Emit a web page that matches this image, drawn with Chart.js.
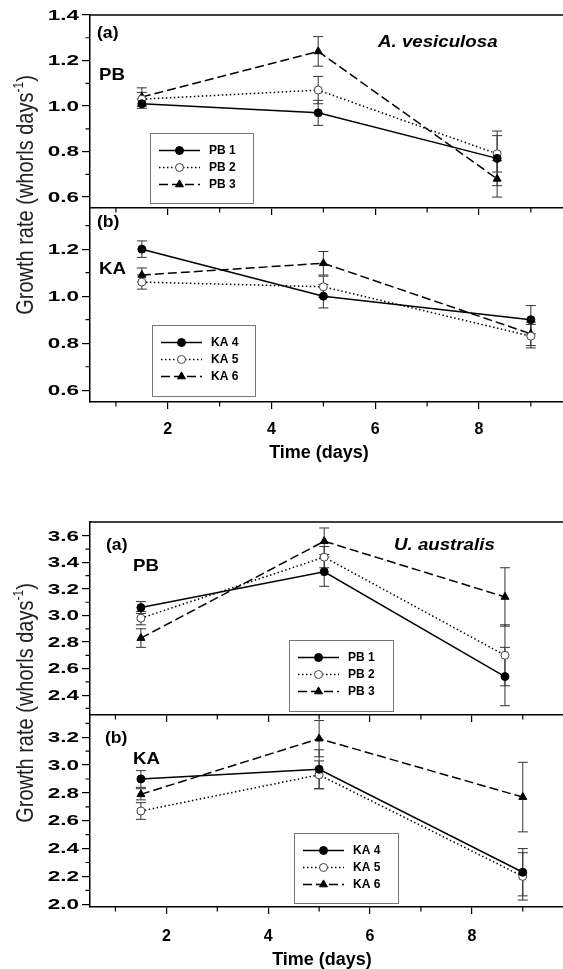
<!DOCTYPE html>
<html>
<head>
<meta charset="utf-8">
<script src="https://cdn.jsdelivr.net/npm/chart.js@4.4.1/dist/chart.umd.min.js"></script>
<style>
  html, body { margin: 0; padding: 0; background: #fff; }
  #fig { position: relative; width: 563px; height: 969px; overflow: hidden; background: #fff; }
  #fig canvas { position: absolute; left: 0; }
  .lbl { position: absolute; white-space: nowrap; font-family: "Liberation Sans", Arial, sans-serif;
         font-weight: bold; color: #000; transform-origin: left center; transform: translateY(-50%) scaleX(1.1); line-height: 1; }
  .ytitle { position: absolute; white-space: nowrap; font-family: "Liberation Sans", Arial, sans-serif;
            font-size: 20px; color: #222; line-height: 1; transform: translate(-50%, -50%) rotate(-90deg) scaleY(1.2); }
  .ytitle sup { font-size: 12px; vertical-align: 8px; }
  .xtitle { position: absolute; white-space: nowrap; font-family: "Liberation Sans", Arial, sans-serif;
            font-weight: bold; font-size: 18px; color: #000; line-height: 1; transform: translate(-50%, -50%); }
</style>
</head>
<body>
<div id="fig">
  <canvas id="avPB" width="563" height="220" style="top:0px"></canvas>
  <canvas id="avKA" width="563" height="260" style="top:198px"></canvas>
  <canvas id="uaPB" width="563" height="220" style="top:507px"></canvas>
  <canvas id="uaKA" width="563" height="264" style="top:705px"></canvas>

  <div class="ytitle" style="left:24px; top:195px">Growth rate (whorls days<sup>-1</sup>)</div>
  <div class="ytitle" style="left:24px; top:703px">Growth rate (whorls days<sup>-1</sup>)</div>
  <div class="xtitle" style="left:319px; top:452px">Time (days)</div>
  <div class="xtitle" style="left:322px; top:959px">Time (days)</div>

  <div class="lbl" style="left:97px; top:33px; font-size:16px">(a)</div>
  <div class="lbl" style="left:99px; top:74px; font-size:17px">PB</div>
  <div class="lbl" style="left:378px; top:41px; font-size:17px; font-style:italic">A. vesiculosa</div>
  <div class="lbl" style="left:97px; top:222px; font-size:16px">(b)</div>
  <div class="lbl" style="left:99px; top:268px; font-size:17px">KA</div>

  <div class="lbl" style="left:106px; top:545px; font-size:16px">(a)</div>
  <div class="lbl" style="left:133px; top:565px; font-size:17px">PB</div>
  <div class="lbl" style="left:394px; top:544px; font-size:17px; font-style:italic">U. australis</div>
  <div class="lbl" style="left:105px; top:738px; font-size:16px">(b)</div>
  <div class="lbl" style="left:133px; top:758px; font-size:17px">KA</div>
</div>

<script>
// ---- data ----

// x ticks (shared)
const X_MAJOR = [2, 4, 6, 8];
const X_MINOR = [1, 3, 5, 7, 9];

// A. vesiculosa, site PB
const AV_PB_DAYS = [1.5, 4.9, 8.35];
const AV_PB1 = [1.01, 0.97, 0.77];
const AV_PB1_ERR = [0.02, 0.055, 0.12];
const AV_PB2 = [1.03, 1.07, 0.79];
const AV_PB2_ERR = [0.03, 0.06, 0.08];
const AV_PB3 = [1.04, 1.24, 0.68];
const AV_PB3_ERR = [0.04, 0.065, 0.08];
const AV_PB_Y_MAJOR = [0.6, 0.8, 1.0, 1.2, 1.4];
const AV_PB_Y_MINOR = [0.7, 0.9, 1.1, 1.3];

// A. vesiculosa, site KA
const AV_KA_DAYS = [1.5, 5, 9];
const AV_KA4 = [1.20, 1.00, 0.90];
const AV_KA4_ERR = [0.035, 0.05, 0.06];
const AV_KA5 = [1.06, 1.04, 0.83];
const AV_KA5_ERR = [0.03, 0.045, 0.05];
const AV_KA6 = [1.09, 1.14, 0.84];
const AV_KA6_ERR = [0.03, 0.05, 0.05];
const AV_KA_Y_MAJOR = [0.6, 0.8, 1.0, 1.2];
const AV_KA_Y_MINOR = [0.7, 0.9, 1.1, 1.3];

// U. australis, site PB
const UA_PB_DAYS = [1.5, 5.1, 8.65];
const UA_PB1 = [3.06, 3.33, 2.54];
const UA_PB1_ERR = [0.045, 0.11, 0.22];
const UA_PB2 = [2.98, 3.44, 2.70];
const UA_PB2_ERR = [0.05, 0.08, 0.23];
const UA_PB3 = [2.83, 3.56, 3.14];
const UA_PB3_ERR = [0.07, 0.10, 0.22];
const UA_PB_Y_MAJOR = [2.4, 2.6, 2.8, 3.0, 3.2, 3.4, 3.6];
const UA_PB_Y_MINOR = [2.3, 2.5, 2.7, 2.9, 3.1, 3.3, 3.5];

// U. australis, site KA
const UA_KA_DAYS = [1.5, 5, 9];
const UA_KA4 = [2.90, 2.97, 2.23];
const UA_KA4_ERR = [0.06, 0.14, 0.17];
const UA_KA5 = [2.67, 2.93, 2.20];
const UA_KA5_ERR = [0.06, 0.10, 0.17];
const UA_KA6 = [2.79, 3.19, 2.77];
const UA_KA6_ERR = [0.04, 0.13, 0.25];
const UA_KA_Y_MAJOR = [2.0, 2.2, 2.4, 2.6, 2.8, 3.0, 3.2];
const UA_KA_Y_MINOR = [2.1, 2.3, 2.5, 2.7, 2.9, 3.1, 3.3];

// ---- series styles ----
const STYLES = [
  { borderDash: [], pointStyle: 'circle', pointRadius: 4, pointBackgroundColor: '#000', pointBorderColor: '#000' },
  { borderDash: [1.5, 2.5], pointStyle: 'circle', pointRadius: 4, pointBackgroundColor: '#fff', pointBorderColor: '#444' },
  { borderDash: [9, 4], pointStyle: 'triangle', pointRadius: 4.6, pointBackgroundColor: '#000', pointBorderColor: '#000' }
];

function series(labels, days, values, errs) {
  return labels.map((label, i) => Object.assign({
    label: label,
    data: days.map((d, j) => ({ x: d, y: values[i][j] })),
    errors: errs[i],
    borderColor: '#000',
    borderWidth: 1.5,
    tension: 0,
    fill: false,
    pointBorderWidth: 1,
    pointHoverRadius: 4
  }, STYLES[i]));
}

function drawMarker(ctx, ds, x, y) {
  ctx.save();
  ctx.setLineDash([]);
  ctx.fillStyle = ds.pointBackgroundColor;
  ctx.strokeStyle = ds.pointBorderColor;
  ctx.lineWidth = ds.pointBorderWidth;
  if (Chart.helpers && Chart.helpers.drawPoint) {
    Chart.helpers.drawPoint(ctx, { pointStyle: ds.pointStyle, radius: ds.pointRadius, borderWidth: ds.pointBorderWidth, rotation: 0 }, x, y);
  } else {
    ctx.beginPath();
    ctx.arc(x, y, ds.pointRadius, 0, Math.PI * 2);
    ctx.fill();
    ctx.stroke();
  }
  ctx.restore();
}

// error bars, minor ticks, stretched y labels, top frame line, legend
const panelExtras = {
  id: 'panelExtras',
  beforeDatasetsDraw(chart) {
    const ctx = chart.ctx, xs = chart.scales.x, ys = chart.scales.y;
    ctx.save();
    ctx.strokeStyle = '#333';
    ctx.lineWidth = 1;
    chart.data.datasets.forEach(ds => {
      ds.data.forEach((p, i) => {
        const e = ds.errors[i];
        const x = xs.getPixelForValue(p.x);
        const y1 = ys.getPixelForValue(p.y + e), y2 = ys.getPixelForValue(p.y - e);
        ctx.beginPath();
        ctx.moveTo(x, y1); ctx.lineTo(x, y2);
        ctx.moveTo(x - 5, y1); ctx.lineTo(x + 5, y1);
        ctx.moveTo(x - 5, y2); ctx.lineTo(x + 5, y2);
        ctx.stroke();
      });
    });
    ctx.restore();
  },
  afterDraw(chart, args, o) {
    const ctx = chart.ctx, xs = chart.scales.x, ys = chart.scales.y, area = chart.chartArea;
    ctx.save();
    ctx.strokeStyle = '#000';
    ctx.lineWidth = 1.2;
    ctx.beginPath();
    o.xMinor.forEach(v => {
      const x = xs.getPixelForValue(v);
      ctx.moveTo(x, area.bottom); ctx.lineTo(x, area.bottom + 4.5);
    });
    o.yMinor.forEach(v => {
      const y = ys.getPixelForValue(v);
      ctx.moveTo(area.left - 4.5, y); ctx.lineTo(area.left, y);
    });
    ctx.stroke();

    if (o.topLine) {
      ctx.lineWidth = 1.5;
      ctx.beginPath();
      ctx.moveTo(area.left - 0.75, area.top); ctx.lineTo(area.right, area.top);
      ctx.stroke();
    }

    // y tick labels, drawn wide like the original
    ctx.fillStyle = '#000';
    ctx.font = 'bold 15px "Liberation Sans", Arial, sans-serif';
    ctx.textAlign = 'right';
    ctx.textBaseline = 'middle';
    ys.ticks.forEach(t => {
      const y = ys.getPixelForValue(t.value);
      ctx.save();
      ctx.translate(area.left - 11, y + 0.5);
      ctx.scale(1.5, 1);
      ctx.fillText(t.value.toFixed(1), 0, 0);
      ctx.restore();
    });

    // legend box
    const L = o.legend, top = chart.canvas.offsetTop;
    const bx = L.x, by = L.y - top;
    ctx.strokeStyle = '#777';
    ctx.lineWidth = 1;
    ctx.strokeRect(bx + 0.5, by + 0.5, L.w, L.h);
    ctx.font = 'bold 12px "Liberation Sans", Arial, sans-serif';
    ctx.textAlign = 'left';
    chart.data.datasets.forEach((ds, i) => {
      const ry = by + 17.5 + i * 17;
      ctx.save();
      ctx.strokeStyle = ds.borderColor;
      ctx.lineWidth = ds.borderWidth;
      ctx.setLineDash(ds.borderDash);
      ctx.beginPath();
      ctx.moveTo(bx + 9, ry); ctx.lineTo(bx + 50, ry);
      ctx.stroke();
      ctx.restore();
      drawMarker(ctx, ds, bx + 29.5, ry);
      ctx.fillStyle = '#000';
      ctx.fillText(ds.label, bx + 59, ry + 0.5);
    });
    ctx.restore();
  }
};

function panel(id, p) {
  return new Chart(document.getElementById(id), {
    type: 'line',
    data: { datasets: p.datasets },
    options: {
      responsive: false,
      animation: false,
      events: [],
      layout: { autoPadding: false, padding: { top: p.padTop, left: 0, right: 0, bottom: 0 } },
      plugins: {
        legend: { display: false },
        tooltip: { enabled: false },
        panelExtras: { xMinor: X_MINOR, yMinor: p.yMinor, topLine: p.topLine, legend: p.legend }
      },
      scales: {
        x: {
          type: 'linear',
          min: 0.5,
          max: p.xMax,
          afterBuildTicks: s => { s.ticks = X_MAJOR.map(v => ({ value: v })); },
          afterFit: s => { s.height = p.xHeight; },
          ticks: {
            display: p.xLabels,
            color: '#000',
            padding: p.xPad,
            maxRotation: 0,
            font: { family: '"Liberation Sans", Arial, sans-serif', size: 16, weight: 'bold' }
          },
          grid: { display: true, drawOnChartArea: false, drawTicks: true, tickLength: 7, color: '#000', lineWidth: 1.2 },
          border: { display: true, color: '#000', width: 1.5 }
        },
        y: {
          type: 'linear',
          min: p.yMin,
          max: p.yMax,
          afterBuildTicks: s => { s.ticks = p.yMajor.map(v => ({ value: v })); },
          afterFit: s => { s.width = 90; },
          ticks: { display: false },
          grid: { display: true, drawOnChartArea: false, drawTicks: true, tickLength: 8, color: '#000', lineWidth: 1.2 },
          border: { display: true, color: '#000', width: 1.5 }
        }
      }
    },
    plugins: [panelExtras]
  });
}

panel('avPB', {
  datasets: series(['PB 1', 'PB 2', 'PB 3'], AV_PB_DAYS, [AV_PB1, AV_PB2, AV_PB3], [AV_PB1_ERR, AV_PB2_ERR, AV_PB3_ERR]),
  padTop: 15, xHeight: 12, xLabels: false, xPad: 0, xMax: 9.62,
  yMin: 0.552, yMax: 1.4, yMajor: AV_PB_Y_MAJOR, yMinor: AV_PB_Y_MINOR, topLine: true,
  legend: { x: 150, y: 133, w: 103, h: 70 }
});

panel('avKA', {
  datasets: series(['KA 4', 'KA 5', 'KA 6'], AV_KA_DAYS, [AV_KA4, AV_KA5, AV_KA6], [AV_KA4_ERR, AV_KA5_ERR, AV_KA6_ERR]),
  padTop: 10, xHeight: 56, xLabels: true, xPad: 11, xMax: 9.62,
  yMin: 0.55, yMax: 1.375, yMajor: AV_KA_Y_MAJOR, yMinor: AV_KA_Y_MINOR, topLine: false,
  legend: { x: 152, y: 325, w: 103, h: 71 }
});

panel('uaPB', {
  datasets: series(['PB 1', 'PB 2', 'PB 3'], UA_PB_DAYS, [UA_PB1, UA_PB2, UA_PB3], [UA_PB1_ERR, UA_PB2_ERR, UA_PB3_ERR]),
  padTop: 15, xHeight: 12, xLabels: false, xPad: 0, xMax: 9.79,
  yMin: 2.25, yMax: 3.705, yMajor: UA_PB_Y_MAJOR, yMinor: UA_PB_Y_MINOR, topLine: true,
  legend: { x: 289, y: 640, w: 104, h: 71 }
});

panel('uaKA', {
  datasets: series(['KA 4', 'KA 5', 'KA 6'], UA_KA_DAYS, [UA_KA4, UA_KA5, UA_KA6], [UA_KA4_ERR, UA_KA5_ERR, UA_KA6_ERR]),
  padTop: 10, xHeight: 62, xLabels: true, xPad: 13, xMax: 9.79,
  yMin: 1.98, yMax: 3.36, yMajor: UA_KA_Y_MAJOR, yMinor: UA_KA_Y_MINOR, topLine: false,
  legend: { x: 294, y: 833, w: 104, h: 70 }
});
</script>
</body>
</html>
